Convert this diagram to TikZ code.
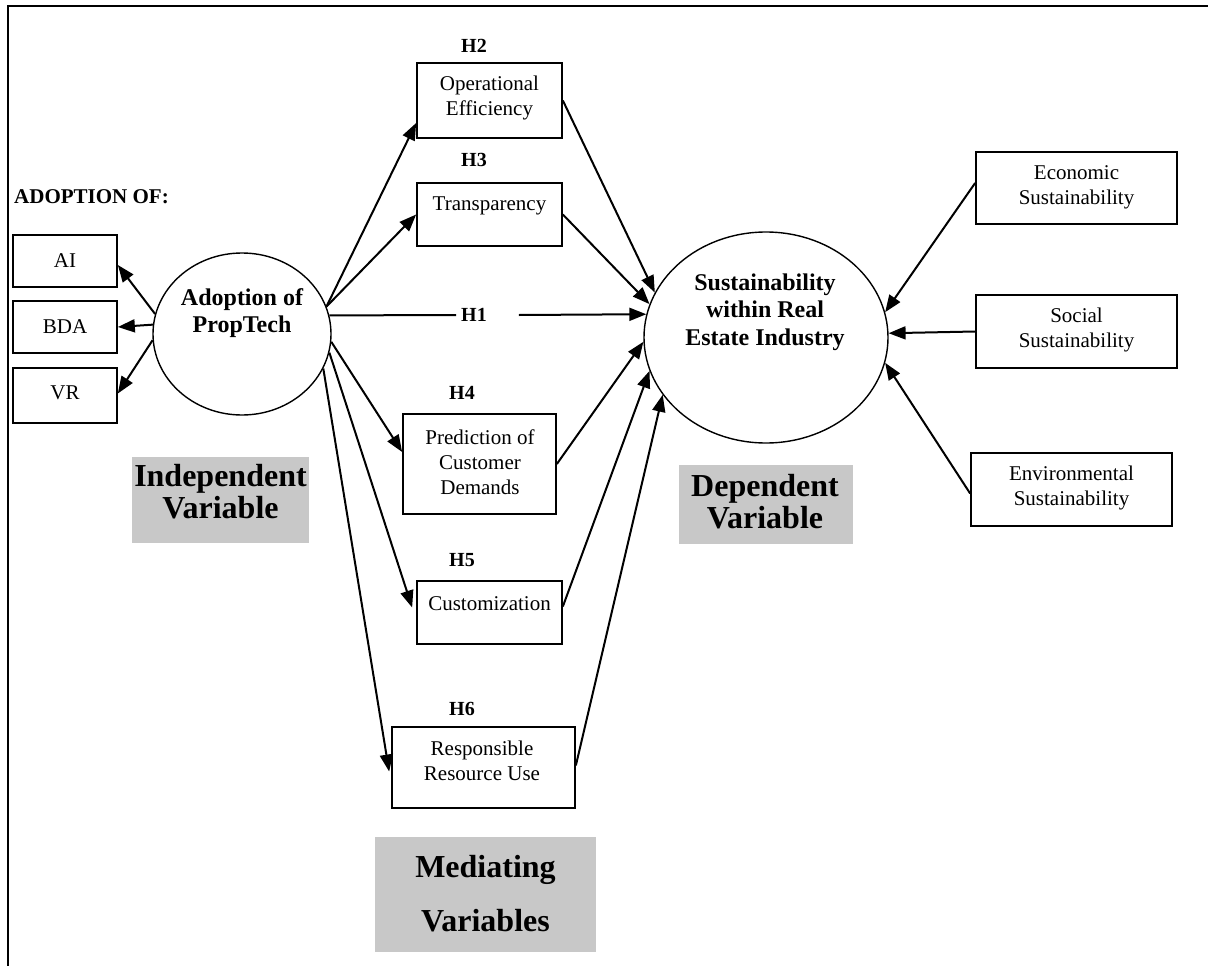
\documentclass[tikz,border=0pt]{standalone}
\usepackage{fontspec}
\setmainfont{Liberation Serif}
\usetikzlibrary{arrows.meta,shapes.geometric}
\definecolor{boxgray}{RGB}{200,200,200}
\begin{document}
\begin{tikzpicture}[x=1pt,y=-1pt,
  box/.style={draw, line width=1.7pt, inner sep=0pt, minimum width=#1},
  txt/.style={font=\fontsize{21}{25}\selectfont, align=center, inner sep=0pt},
  hlab/.style={font=\bfseries\fontsize{20}{24}\selectfont, inner sep=0pt},
  big/.style={font=\bfseries\fontsize{24}{27.5}\selectfont, align=center, inner sep=0pt},
  grey/.style={fill=boxgray, inner sep=0pt},
  greytxt/.style={font=\bfseries\fontsize{32}{32}\selectfont, align=center, inner sep=0pt},
  oval/.style={draw, ellipse, line width=1.4pt, inner sep=0pt},
  arr/.style={line width=2pt, -{Triangle[length=17pt,width=13pt]}},
  ln/.style={line width=2pt}]
\useasboundingbox (0,0) rectangle (1208,966);
% frame
\draw[line width=2pt] (8,966) -- (8,6.5) -- (1208,6.5);

% ADOPTION OF
\node[font=\bfseries\fontsize{21}{25}\selectfont, anchor=base west, inner sep=0pt] (adoptof) at (14,203) {ADOPTION OF:};

% left boxes
\node[box=104, minimum height=52] (ai) at (65,261) {};
\node[box=104, minimum height=52] (bda) at (65,327) {};
\node[box=104, minimum height=55] (vr) at (65,395.5) {};
\node[txt] (tai) at (65,261) {AI};
\node[txt] (tbda) at (65,327) {BDA};
\node[txt] (tvr) at (65,393) {VR};

% adoption ellipse
\node[oval, minimum width=178, minimum height=162] (adopt) at (242,334) {};
\node[big] (tadopt) at (242,313) {Adoption of\\PropTech};

% mediators
\node[box=145, minimum height=75] (oe) at (489.5,100.5) {};
\node[txt] (toe) at (489.5,98) {Operational\\Efficiency};
\node[hlab] (h2) at (474,46) {H2};

\node[box=145, minimum height=63] (tr) at (489.5,214.5) {};
\node[txt] (ttr) at (489.5,206) {Transparency};
\node[hlab] (h3) at (474,160) {H3};

\node[box=153, minimum height=100] (pr) at (479.5,464) {};
\node[txt] (tpr) at (480,462) {Prediction of\\Customer\\Demands};
\node[hlab] (h4) at (462,393) {H4};

\node[box=145, minimum height=63] (cu) at (489.5,612.5) {};
\node[txt] (tcu) at (489.5,604) {Customization};
\node[hlab] (h5) at (462,560) {H5};

\node[box=183, minimum height=81] (rr) at (483.5,767.5) {};
\node[txt] (trr) at (482,761) {Responsible\\Resource Use};
\node[hlab] (h6) at (462,709) {H6};

% dependent ellipse
\node[oval, minimum width=244, minimum height=211] (dep) at (766,337.5) {};
\node[big] (tdep) at (765,312) {Sustainability\\within Real\\Estate Industry};

% right boxes
\node[box=201, minimum height=72] (ec) at (1076.5,188) {};
\node[txt] (tec) at (1076.5,187) {Economic\\Sustainability};
\node[box=201, minimum height=73] (so) at (1076.5,331.5) {};
\node[txt] (tso) at (1076.5,330) {Social\\Sustainability};
\node[box=201, minimum height=73] (en) at (1071.5,489.5) {};
\node[txt] (ten) at (1071.5,488) {Environmental\\Sustainability};

% grey labels
\node[grey, minimum width=177, minimum height=86] (ivbox) at (220.5,500) {};
\node[greytxt] (iv) at (220.5,492) {Independent\\Variable};
\node[grey, minimum width=174, minimum height=79] (dvbox) at (766,504.5) {};
\node[greytxt] (dv) at (765,502) {Dependent\\Variable};
\node[grey, minimum width=221, minimum height=115] (mvbox) at (485.5,894) {};
\node[greytxt, font=\bfseries\fontsize{32}{54}\selectfont] (mv) at (485.5,894) {Mediating\\Variables};

% arrows to indicators
\draw[arr] (adopt.167) -- ([yshift=-4pt]ai.east);
\draw[arr] (adopt.174) -- (bda.east);
\draw[arr] (adopt.184) -- ([yshift=2pt]vr.east);

% arrows to mediators
\draw[arr] (adopt.18.4) -- ([yshift=-22.5pt]oe.west);
\draw[arr] (adopt.18.4) -- (tr.west);
\draw[arr] (adopt.-5) -- ([yshift=12pt]pr.west);
\draw[arr] (adopt.-12) -- ([xshift=-4pt,yshift=5pt]cu.west);
\draw[arr] (adopt.-23) -- ([xshift=-2pt,yshift=-4pt]rr.west);

% H1 direct path
\node[hlab] (h1) at (474,315) {H1};
\draw[ln] (adopt.12) -- ([xshift=-5pt]h1.west);
\draw[arr] ([xshift=32pt]h1.east) -- (dep.169.6);

% mediators to dependent
\draw[arr] (oe.east) -- (dep.158.7);
\draw[arr] (tr.east) -- (dep.164);
\draw[arr] (pr.east) -- (dep.182.5);
\draw[arr] ([yshift=6pt]cu.east) -- (dep.196);
\draw[arr] ([yshift=2pt]rr.east) -- (dep.209);

% dimensions to dependent
\draw[arr] ([yshift=5pt]ec.west) -- (dep.12.4);
\draw[arr] (so.west) -- (dep.2);
\draw[arr] ([yshift=-4pt]en.west) -- (dep.-12);
\end{tikzpicture}
\end{document}
